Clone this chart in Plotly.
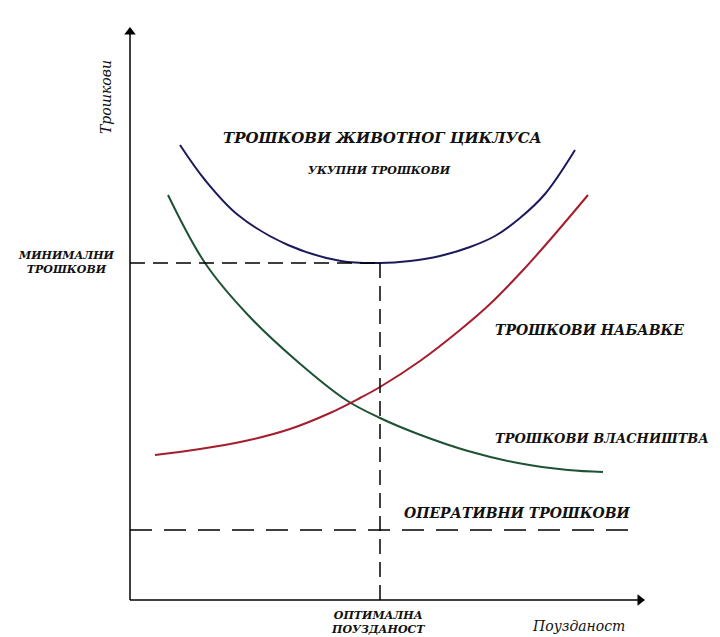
import plotly.graph_objects as go

# Curves (x = reliability, y = cost) in arbitrary units
lcc_x = [5.0, 7.5, 10.8, 15.8, 21.1, 25.0, 28.0, 31.0, 34.0, 36.5, 39.0, 41.5, 44.5]
lcc_y = [45.5, 42.0, 38.5, 35.5, 33.9, 33.7, 33.9, 34.4, 35.3, 36.4, 38.2, 40.6, 45.0]

own_x = [3.8, 7.5, 11.8, 16.8, 21.6, 25.0, 28.8, 33.8, 38.8, 43.8, 47.3]
own_y = [40.5, 33.7, 28.5, 23.8, 20.0, 18.2, 16.6, 14.9, 13.7, 13.0, 12.8]

acq_x = [2.5, 7.0, 11.5, 16.0, 20.0, 23.0, 25.0, 29.0, 33.0, 36.0, 39.5, 42.5, 45.8]
acq_y = [14.5, 15.1, 15.9, 17.1, 18.7, 20.2, 21.3, 23.9, 27.0, 29.6, 33.2, 36.6, 40.5]

x_opt = 25.0
y_min = 33.7
y_oper = 7.0
x_end = 50.0
x_axis_end = 51.6
y_axis_end = 57.4

FONT = "DejaVu Serif"

fig = go.Figure()

def curve(x, y, color):
    fig.add_trace(go.Scatter(x=x, y=y, mode="lines",
                             line=dict(color=color, width=2, shape="spline", smoothing=1.0),
                             hoverinfo="skip", showlegend=False))

curve(lcc_x, lcc_y, "#1c1a5c")
curve(own_x, own_y, "#1d5234")
curve(acq_x, acq_y, "#a51d2d")

# dashed guide lines
fig.add_trace(go.Scatter(x=[0, x_opt], y=[y_min, y_min], mode="lines",
                         line=dict(color="black", width=1.5, dash="15px,8px"),
                         hoverinfo="skip", showlegend=False))
fig.add_trace(go.Scatter(x=[x_opt, x_opt], y=[y_min, 0], mode="lines",
                         line=dict(color="black", width=1.5, dash="15px,8px"),
                         hoverinfo="skip", showlegend=False))
fig.add_trace(go.Scatter(x=[0, x_end], y=[y_oper, y_oper], mode="lines",
                         line=dict(color="black", width=1.5, dash="22px,12px"),
                         hoverinfo="skip", showlegend=False))

# axes
fig.add_trace(go.Scatter(x=[0, 0], y=[0, y_axis_end - 0.8], mode="lines",
                         line=dict(color="black", width=1.5), hoverinfo="skip", showlegend=False))
fig.add_trace(go.Scatter(x=[0, x_axis_end - 0.8], y=[0, 0], mode="lines",
                         line=dict(color="black", width=1.5), hoverinfo="skip", showlegend=False))
fig.add_trace(go.Scatter(x=[0], y=[y_axis_end - 0.6], mode="markers",
                         marker=dict(symbol="triangle-up", size=10, color="black"),
                         hoverinfo="skip", showlegend=False))
fig.add_trace(go.Scatter(x=[x_axis_end - 0.6], y=[0], mode="markers",
                         marker=dict(symbol="triangle-right", size=10, color="black"),
                         hoverinfo="skip", showlegend=False))

def label(x, y, text, size, xanchor="center", angle=0, bold=True):
    t = f"<i>{text}</i>"
    if bold:
        t = f"<b>{t}</b>"
    fig.add_annotation(x=x, y=y, text=t, showarrow=False, xanchor=xanchor, yanchor="middle",
                       textangle=angle, font=dict(family=FONT, size=size, color="#111111"))

label(25.2, 46.2, "ТРОШКОВИ ЖИВОТНОГ ЦИКЛУСА", 15)
label(24.9, 43.0, "УКУПНИ ТРОШКОВИ", 11)
label(36.3, 27.0, "ТРОШКОВИ НАБАВКЕ", 14, xanchor="left")
label(36.3, 16.2, "ТРОШКОВИ ВЛАСНИШТВА", 13, xanchor="left")
label(27.2, 8.7, "ОПЕРАТИВНИ ТРОШКОВИ", 14, xanchor="left")
label(-6.4, 33.8, "МИНИМАЛНИ<br>ТРОШКОВИ", 11)
label(24.8, -2.2, "ОПТИМАЛНА<br>ПОУЗДАНОСТ", 11)
label(44.8, -2.6, "Поузданост", 14, bold=False)
label(-2.4, 50.3, "Трошкови", 14, angle=-90, bold=False)

fig.update_layout(
    width=720, height=637,
    margin=dict(l=0, r=0, t=0, b=0),
    paper_bgcolor="white", plot_bgcolor="white",
    xaxis=dict(range=[-12.2, 59.8], visible=False, fixedrange=True),
    yaxis=dict(range=[-4.5, 59.2], visible=False, fixedrange=True),
    showlegend=False,
)

fig.write_html("out.html")
